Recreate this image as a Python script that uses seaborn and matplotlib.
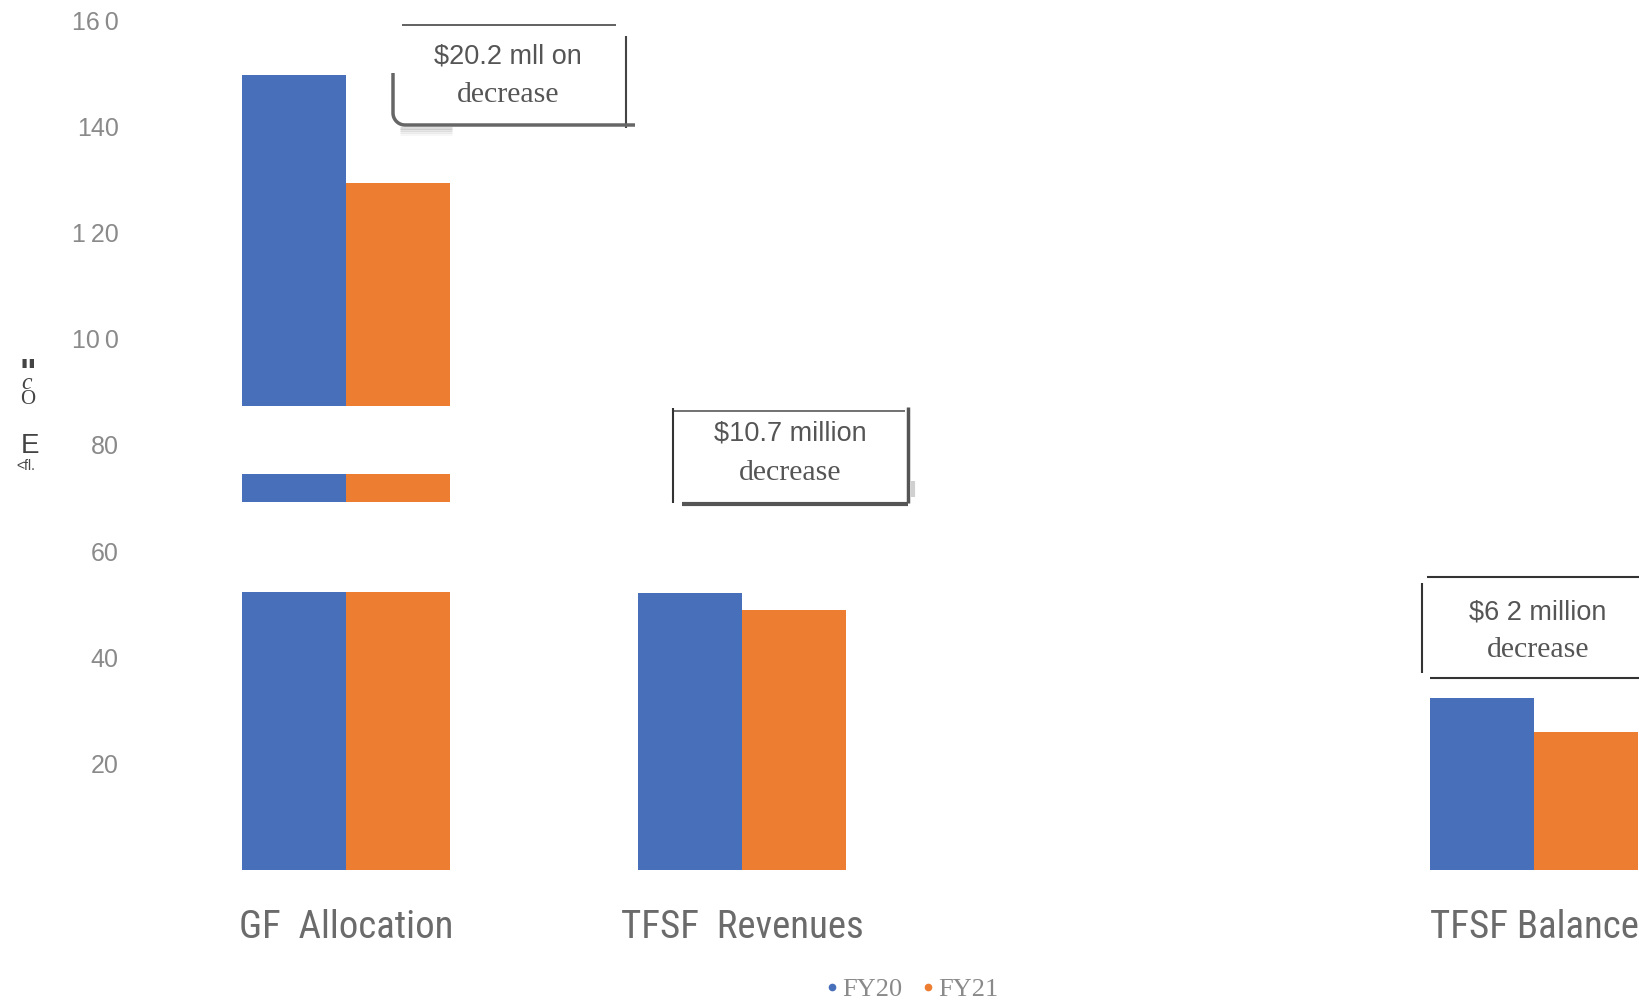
import matplotlib
matplotlib.use("Agg")
import matplotlib.pyplot as plt
from matplotlib import font_manager
from matplotlib.font_manager import FontProperties
from matplotlib.lines import Line2D
import seaborn as sns
import pandas as pd
import numpy as np

# ---------------- data ----------------
categories = ["GF  Allocation", "TFSF  Revenues", "", "TFSF Balance"]
series = ["FY20", "FY21"]
fy20 = [149.6, 52.2, 32.3]
fy21 = [129.3, 49.0, 26.0]
data_cats = ["GF  Allocation", "TFSF  Revenues", "TFSF Balance"]
# white scan gaps across the GF Allocation bars (low, high)
gap_low = [74.6, 52.4]
gap_high = [87.4, 69.2]
ytick_vals = [20, 40, 60, 80, 100, 120, 140, 160]
ytick_labels = ["20", "40", "60", "80", "10\u20090", "1\u200920", "140", "16\u20090"]
notes = [("$20.2 mll on", "decrease"), ("$10.7 million", "decrease"), ("$6 2 million", "decrease")]
colors = {"FY20": "#4870BA", "FY21": "#ED7D31"}

sns.set_theme(style="white")
plt.rcParams["font.family"] = ["Liberation Sans", "DejaVu Sans"]

# pick a condensed sans for the category labels, if one is installed
pref = ["Liberation Sans Narrow", "Arial Narrow", "Roboto Condensed", "Open Sans Condensed",
        "Noto Sans Condensed", "DejaVu Sans Condensed", "Noto Sans", "DejaVu Sans"]
cands = []
for f in font_manager.fontManager.ttflist:
    cond = ("Narrow" in f.name or "Condensed" in f.name or
            f.stretch in ("condensed", "semi-condensed", "extra-condensed"))
    w = f.weight if isinstance(f.weight, int) else {"normal": 400, "regular": 400}.get(str(f.weight), 0)
    if cond and f.style == "normal" and w == 400:
        rank = next((i for i, p in enumerate(pref) if f.name.startswith(p)), len(pref))
        cands.append((rank, f.fname))
cands.sort()
if cands:
    cat_fp = FontProperties(fname=cands[0][1])
else:
    cat_fp = FontProperties(family="Liberation Sans")

W, H = 1639, 1000
fig = plt.figure(figsize=(W / 100, H / 100), dpi=100)
ax = fig.add_axes([148 / W, 0.13, 1 - 148 / W, 0.85])

df = pd.DataFrame({
    "cat": data_cats * 2,
    "series": ["FY20"] * 3 + ["FY21"] * 3,
    "value": fy20 + fy21,
})
sns.barplot(data=df, x="cat", y="value", hue="series", order=categories,
            hue_order=series, palette=colors, saturation=1, width=0.526,
            edgecolor="none", linewidth=0, legend=False, ax=ax)

# scan gaps on the GF bars
gf_bars = [p for p in ax.patches if abs(p.get_x() + p.get_width() / 2) < 0.4 and p.get_height() > 0]
for p in gf_bars:
    for lo, hi in zip(gap_low, gap_high):
        ax.bar(p.get_x(), hi - lo, bottom=lo, width=p.get_width(), align="edge",
               color="white", edgecolor="none", linewidth=0, zorder=5)

ax.set_xlim(-0.5, 3.265)
ax.set_ylim(0, 160)
for s in ax.spines.values():
    s.set_visible(False)
ax.set_xlabel("")
ax.set_ylabel("")
ax.set_yticks(ytick_vals)
ax.set_yticklabels(ytick_labels, fontsize=18, color="#8a8a8a")
ax.tick_params(axis="y", length=0, pad=21)
ax.set_xticks(range(len(categories)))
ax.set_xticklabels(categories, color="#6b6b6b")
ax.tick_params(axis="x", length=0, pad=28)
ax.grid(False)

# size the category labels so "GF  Allocation" is ~215 px wide, as in the reference
size = 30.0
for lab in ax.get_xticklabels():
    lab.set_fontproperties(cat_fp)
    lab.set_fontsize(size)
fig.canvas.draw()
r = fig.canvas.get_renderer()
w0 = ax.get_xticklabels()[0].get_window_extent(r).width
size = float(np.clip(size * 215.0 / max(w0, 1), 22, 34))
for lab in ax.get_xticklabels():
    lab.set_fontsize(size)


def fx(x):
    return x / W


def fy(y):
    return 1 - y / H


def seg(xs, ys, lw=1.4, c="#555555", a=1.0):
    fig.add_artist(Line2D([fx(v) for v in xs], [fy(v) for v in ys], lw=lw, color=c, alpha=a,
                          solid_capstyle="butt", transform=fig.transFigure))


# box 1
seg([402, 616], [25, 25], 1.3, "#555555")
seg([626, 626], [36, 128], 1.5, "#444444")
for k, a in enumerate([0.35, 0.25, 0.15, 0.08]):
    seg([400, 452], [128 + 2 * k, 128 + 2 * k], 2.0, "#9a9a9a", a)
t = np.linspace(np.pi, 1.5 * np.pi, 12)
arc_x = list(393 + 12 + 12 * np.cos(t))
arc_y = list(113 - 12 * np.sin(t))
seg([393] + arc_x + [635], [73] + arc_y + [125], 2.5, "#666666")
# box 2
seg([672, 905], [411, 411], 1.3, "#666666")
seg([673, 673], [408, 503], 1.5, "#333333")
seg([908, 908], [407, 503], 2.5, "#555555")
seg([682, 908], [504, 504], 3.0, "#555555")
seg([913, 913], [481, 497], 3.0, "#d0d0d0")
# box 3
seg([1427, 1639], [577, 577], 1.5, "#333333")
seg([1422, 1422], [583, 673], 1.5, "#333333")
seg([1430, 1639], [678, 678], 1.5, "#333333")

note_pos = [(508, 57, 95), (790, 434, 473), (1538, 613, 650)]
for (l1, l2), (cx, y1, y2) in zip(notes, note_pos):
    fig.text(fx(cx), fy(y1), l1, ha="center", va="center", fontsize=19.5,
             color="#555555", family="Liberation Sans", parse_math=False)
    fig.text(fx(cx), fy(y2), l2, ha="center", va="center", fontsize=21.5,
             color="#555555", family="Liberation Serif", parse_math=False)

# garbled y-axis label fragments (baseline positioned)
fig.text(fx(28), fy(383), "\"", ha="center", va="baseline", fontsize=25, weight="bold",
         color="#444444", family="Liberation Sans")
fig.text(fx(27), fy(389), "c", ha="center", va="baseline", fontsize=17, style="italic",
         color="#444444", family="Liberation Serif")
fig.text(fx(27.5), fy(404), "O", ha="center", va="baseline", fontsize=15,
         color="#444444", family="Liberation Serif")
fig.text(fx(30.5), fy(453), "E", ha="center", va="baseline", fontsize=20,
         color="#444444", family="Liberation Sans")
fig.text(fx(25.5), fy(470), "<fl.", ha="center", va="baseline", fontsize=10,
         color="#444444", family="Liberation Sans")

# legend
handles = [Line2D([], [], marker="o", ls="", color=colors[s], markersize=4.5) for s in series]
fig.legend(handles, series, loc="center", bbox_to_anchor=(fx(910), fy(989)), ncol=2,
           frameon=False, handletextpad=0.0, columnspacing=0.57, handlelength=0.8,
           prop={"family": "Liberation Serif", "size": 19}, labelcolor="#8a8a8a",
           borderpad=0)

fig.savefig("out.png", dpi=100)
